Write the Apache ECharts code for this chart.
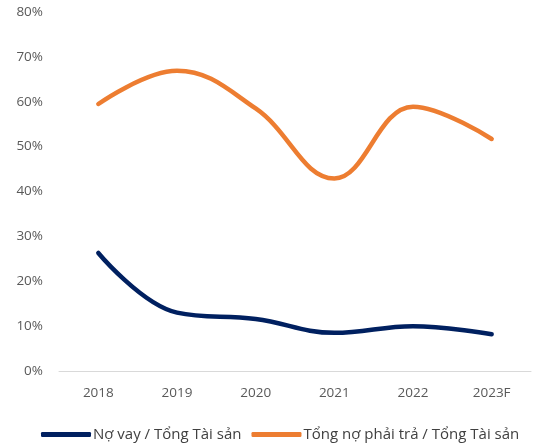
<!DOCTYPE html>
<html><head><meta charset="utf-8">
<script src="https://cdn.jsdelivr.net/npm/echarts@6/dist/echarts.min.js"></script>
<style>html,body{margin:0;padding:0;background:#fff}#c{width:535px;height:448px}</style>
</head><body><div id="c"></div>
<script>
const categories = ['2018','2019','2020','2021','2022','2023F'];
const debtToAssets = [26.3, 13.0, 11.6, 8.5, 10.0, 8.2];
const liabilitiesToAssets = [59.5, 66.9, 58.5, 42.9, 58.9, 51.7];
const seriesNames = ['Nợ vay / Tổng Tài sản', 'Tổng nợ phải trả / Tổng Tài sản'];
const chart = echarts.init(document.getElementById('c'));
const font = '"Open Sans", "Noto Sans", sans-serif';
chart.setOption({
  animation: false,
  grid: {left: 59, right: 4, top: 12, bottom: 77},
  legend: {
    bottom: 1, left: 36, itemWidth: 50, itemHeight: 5, itemGap: 10,
    icon: 'roundRect',
    textStyle: {fontFamily: font, fontSize: 15, color: '#404040', padding: [0,0,0,-3]},
    data: seriesNames
  },
  xAxis: {
    type: 'category', data: categories,
    axisLine: {lineStyle: {color: '#d9d9d9', width: 1}},
    axisTick: {show: false},
    axisLabel: {fontFamily: font, fontSize: 13.5, color: '#595959', margin: 15}
  },
  yAxis: {
    type: 'value', min: 0, max: 80, interval: 10,
    splitLine: {show: false},
    axisLabel: {fontFamily: font, fontSize: 13.5, color: '#595959', formatter: '{value}%', margin: 16}
  },
  series: [
    {name: seriesNames[0], type: 'line', data: debtToAssets, smooth: 0.4, symbol: 'none',
     lineStyle: {color: '#002060', width: 4.5, cap: 'round'}, itemStyle: {color: '#002060'}},
    {name: seriesNames[1], type: 'line', data: liabilitiesToAssets, smooth: 0.4, symbol: 'none',
     lineStyle: {color: '#ED7D31', width: 4.5, cap: 'round'}, itemStyle: {color: '#ED7D31'}}
  ]
});
</script></body></html>
